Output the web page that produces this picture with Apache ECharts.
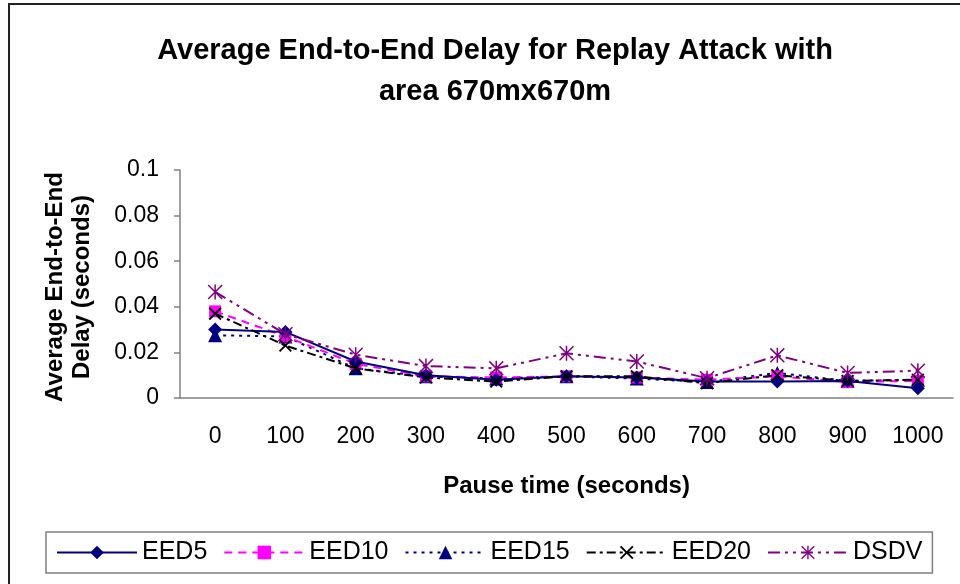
<!DOCTYPE html>
<html>
<head>
<meta charset="utf-8">
<script src="https://cdn.jsdelivr.net/npm/echarts@6/dist/echarts.min.js"></script>
<style>
  html, body { margin: 0; padding: 0; background: #fff; }
  #chart { width: 960px; height: 584px; }
</style>
</head>
<body>
<div id="chart"></div>
<script>
var pauseTimes = ['0', '100', '200', '300', '400', '500', '600', '700', '800', '900', '1000'];
var eed5  = [0.030, 0.029, 0.016, 0.010, 0.008, 0.0095, 0.009, 0.0072, 0.0072, 0.0075, 0.0043];
var eed10 = [0.038, 0.027, 0.015, 0.0095, 0.009, 0.0095, 0.009, 0.008, 0.0095, 0.007, 0.0075];
var eed15 = [0.0275, 0.027, 0.013, 0.0095, 0.0085, 0.0095, 0.0085, 0.007, 0.011, 0.0075, 0.008];
var eed20 = [0.037, 0.023, 0.013, 0.009, 0.0072, 0.0095, 0.0095, 0.0065, 0.010, 0.0075, 0.008];
var dsdv  = [0.0465, 0.028, 0.019, 0.014, 0.013, 0.0196, 0.016, 0.0087, 0.0187, 0.011, 0.012];

var xMark = 'path://M0,2 L2,0 L10,8 L18,0 L20,2 L12,10 L20,18 L18,20 L10,12 L2,20 L0,18 L8,10 Z';
var starMark = 'path://M9,0 L11,0 L11,20 L9,20 Z M0,1.4 L1.4,0 L20,18.6 L18.6,20 Z M18.6,0 L20,1.4 L1.4,20 L0,18.6 Z';

var font = 'Liberation Sans, Arial, sans-serif';

window.onload = function(){
    var myChart = echarts.init(document.getElementById('chart'));
    var option = {
        animation: false,
        textStyle: { fontFamily: font, color: '#000' },
        title: {
            text: 'Average End-to-End Delay for Replay Attack with\narea 670mx670m',
            left: 490,
            textAlign: 'center',
            top: 25,
            textStyle: {
                fontFamily: font,
                fontSize: 29,
                fontWeight: 'bold',
                lineHeight: 41,
                color: '#000'
            }
        },
        graphic: [
            {
                type: 'rect',
                shape: { x: 9, y: 4, width: 980, height: 620 },
                style: { fill: 'none', stroke: '#222', lineWidth: 2 },
                silent: true
            },
            {
                type: 'text',
                x: 42,
                y: 287,
                rotation: Math.PI / 2,
                style: {
                    text: 'Average End-to-End\nDelay (seconds)',
                    font: 'bold 24px ' + font,
                    fill: '#000',
                    align: 'center',
                    verticalAlign: 'top',
                    lineHeight: 27
                }
            }
        ],
        legend: {
            left: 46,
            top: 532,
            padding: [8, 10, 8, 10],
            itemGap: 16,
            itemWidth: 80,
            itemHeight: 17,
            borderColor: '#808080',
            borderWidth: 1.5,
            textStyle: { fontFamily: font, fontSize: 25, color: '#000' },
            data: ['EED5', 'EED10', 'EED15', 'EED20', 'DSDV']
        },
        grid: {
            left: 180,
            right: 7,
            top: 170,
            bottom: 186,
            containLabel: false
        },
        xAxis: {
            type: 'category',
            data: pauseTimes,
            boundaryGap: true,
            name: 'Pause time (seconds)',
            nameLocation: 'middle',
            nameGap: 76,
            nameTextStyle: { fontFamily: font, fontSize: 24, fontWeight: 'bold', color: '#000' },
            axisLine: { lineStyle: { color: '#808080', width: 1.5 } },
            axisTick: { length: 7, lineStyle: { color: '#808080', width: 1.5 } },
            axisLabel: { fontSize: 23, color: '#000', margin: 27, interval: 0 },
            splitLine: { show: false }
        },
        yAxis: {
            type: 'value',
            min: 0,
            max: 0.1,
            interval: 0.02,
            axisLine: { show: true, lineStyle: { color: '#808080', width: 1.5 } },
            axisTick: { show: true, length: 6, lineStyle: { color: '#808080', width: 1.5 } },
            axisLabel: { fontSize: 23, color: '#000', margin: 21 },
            splitLine: { show: false }
        },
        series: [
            {
                name: 'EED5',
                type: 'line',
                data: eed5,
                color: '#000080',
                symbol: 'diamond',
                symbolSize: 14,
                lineStyle: { width: 2, type: 'solid', color: '#000080' },
                itemStyle: { color: '#000080' },
                z: 5
            },
            {
                name: 'EED10',
                type: 'line',
                data: eed10,
                color: '#FF00FF',
                symbol: 'rect',
                symbolSize: 12,
                lineStyle: { width: 2, type: [8, 6], color: '#FF00FF' },
                itemStyle: { color: '#FF00FF' },
                z: 4
            },
            {
                name: 'EED15',
                type: 'line',
                data: eed15,
                color: '#000080',
                symbol: 'triangle',
                symbolSize: 14,
                lineStyle: { width: 2, type: [3, 5], color: '#000080' },
                itemStyle: { color: '#000080' },
                z: 3
            },
            {
                name: 'EED20',
                type: 'line',
                data: eed20,
                color: '#000000',
                symbol: xMark,
                symbolSize: 13,
                lineStyle: { width: 2, type: [9, 4, 3, 4], color: '#000000' },
                itemStyle: { color: '#000000' },
                z: 6
            },
            {
                name: 'DSDV',
                type: 'line',
                data: dsdv,
                color: '#800080',
                symbol: starMark,
                symbolSize: 15,
                lineStyle: { width: 2, type: [12, 5, 3, 5, 3, 5], color: '#800080' },
                itemStyle: { color: '#800080' },
                z: 7
            }
        ]
    };
    myChart.setOption(option);
};
</script>
</body>
</html>
